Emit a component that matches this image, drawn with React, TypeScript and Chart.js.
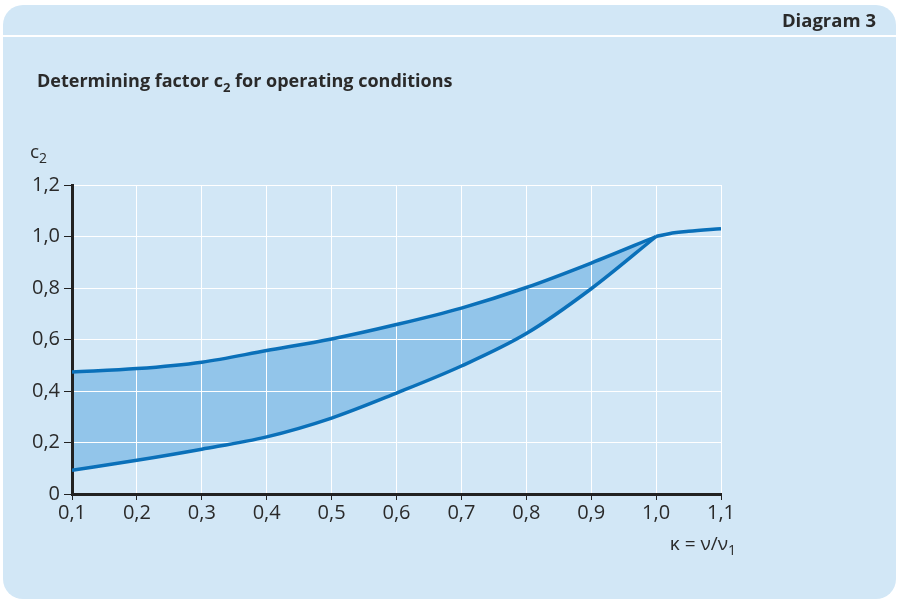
import React, { useEffect, useRef } from "react";
import { Chart, registerables } from "chart.js";

Chart.register(...registerables);

// ---- data ----
const kappaMain = [0.1, 0.2, 0.3, 0.4, 0.5, 0.6, 0.7, 0.8, 0.9, 1.0];
const c2Upper = [0.474, 0.487, 0.512, 0.557, 0.602, 0.658, 0.722, 0.802, 0.897, 1.0];
const c2Lower = [0.092, 0.131, 0.174, 0.222, 0.295, 0.392, 0.497, 0.623, 0.797, 1.0];
const kappaTail = [1.0, 1.02, 1.05, 1.1];
const c2Tail = [1.0, 1.011, 1.02, 1.03];

const xTickValues = [0.1, 0.2, 0.3, 0.4, 0.5, 0.6, 0.7, 0.8, 0.9, 1.0, 1.1];
const xTickLabels = ["0,1", "0,2", "0,3", "0,4", "0,5", "0,6", "0,7", "0,8", "0,9", "1,0", "1,1"];
const yTickValues = [0, 0.2, 0.4, 0.6, 0.8, 1.0, 1.2];
const yTickLabels = ["0", "0,2", "0,4", "0,6", "0,8", "1,0", "1,2"];

const LINE = "#0a70b9";
const FILL = "#92c5ea";
const PANEL = "#d2e7f6";
const TEXT = "#2a2a2a";
const FONT = "'Open Sans', 'DejaVu Sans', sans-serif";

export default function App() {
  const ref = useRef<HTMLCanvasElement | null>(null);

  useEffect(() => {
    if (!ref.current) return;
    const pts = (xs: number[], ys: number[]) => xs.map((x, i) => ({ x, y: ys[i] }));
    const chart = new Chart(ref.current, {
      type: "line",
      data: {
        datasets: [
          {
            data: pts(kappaMain, c2Upper),
            borderColor: LINE,
            borderWidth: 3.5,
            backgroundColor: FILL,
            fill: "+1",
            pointRadius: 0,
            cubicInterpolationMode: "monotone",
          },
          {
            data: pts(kappaMain, c2Lower),
            borderColor: LINE,
            borderWidth: 3.5,
            fill: false,
            pointRadius: 0,
            cubicInterpolationMode: "monotone",
          },
          {
            data: pts(kappaTail, c2Tail),
            borderColor: LINE,
            borderWidth: 3.5,
            fill: false,
            pointRadius: 0,
            cubicInterpolationMode: "monotone",
          },
        ],
      },
      options: {
        responsive: false,
        animation: false,
        devicePixelRatio: 1,
        layout: { padding: { left: 0, top: 185, right: 176, bottom: 0 } },
        plugins: {
          legend: { display: false },
          tooltip: { enabled: false },
          filler: { drawTime: "beforeDraw" },
        },
        scales: {
          x: {
            type: "linear",
            min: 0.1,
            max: 1.1,
            afterBuildTicks: (s: any) => {
              s.ticks = xTickValues.map((v) => ({ value: v }));
            },
            afterFit: (s: any) => {
              s.height = 106;
            },
            ticks: {
              callback: (_v: any, i: number) => xTickLabels[i],
              color: TEXT,
              font: { family: FONT, size: 20 },
              padding: 1,
              maxRotation: 0,
              autoSkip: false,
            },
            grid: { color: "#ffffff", lineWidth: 1, tickColor: "#222", tickLength: 6 },
            border: { color: "#222", width: 3 },
          },
          y: {
            type: "linear",
            min: 0,
            max: 1.2,
            afterBuildTicks: (s: any) => {
              s.ticks = yTickValues.map((v) => ({ value: v }));
            },
            afterFit: (s: any) => {
              s.width = 72;
            },
            ticks: {
              callback: (_v: any, i: number) => yTickLabels[i],
              color: TEXT,
              font: { family: FONT, size: 20 },
              padding: 4,
              autoSkip: false,
            },
            grid: { color: "#ffffff", lineWidth: 1, tickColor: "#222", tickLength: 8 },
            border: { color: "#222", width: 3 },
          },
        },
      },
    } as any);
    return () => chart.destroy();
  }, []);

  return (
    <div style={{ position: "fixed", left: 0, top: 0, width: 897, height: 600, overflow: "hidden", fontFamily: FONT, color: TEXT }}>
      <div style={{ position: "absolute", left: 3, top: 5, width: 893, height: 594, borderRadius: 20, background: PANEL }} />
      <div style={{ position: "absolute", left: 3, top: 35, width: 893, height: 2, background: "#ffffff" }} />
      <div style={{ position: "absolute", right: 21, top: 7, fontSize: 18.5, fontWeight: 700, lineHeight: "26px" }}>Diagram 3</div>
      <div style={{ position: "absolute", left: 37, top: 67, fontSize: 18, fontWeight: 700, lineHeight: "26px" }}>
        Determining factor c<sub style={{ fontSize: 13 }}>2</sub> for operating conditions
      </div>
      <div style={{ position: "absolute", left: 30, top: 138, fontSize: 19, lineHeight: "26px" }}>
        c<sub style={{ fontSize: 14 }}>2</sub>
      </div>
      <div style={{ position: "absolute", right: 161, top: 530, fontSize: 19, lineHeight: "26px" }}>
        κ = ν/ν<sub style={{ fontSize: 14 }}>1</sub>
      </div>
      <canvas ref={ref} width={897} height={600} style={{ position: "absolute", left: 0, top: 0 }} />
    </div>
  );
}
